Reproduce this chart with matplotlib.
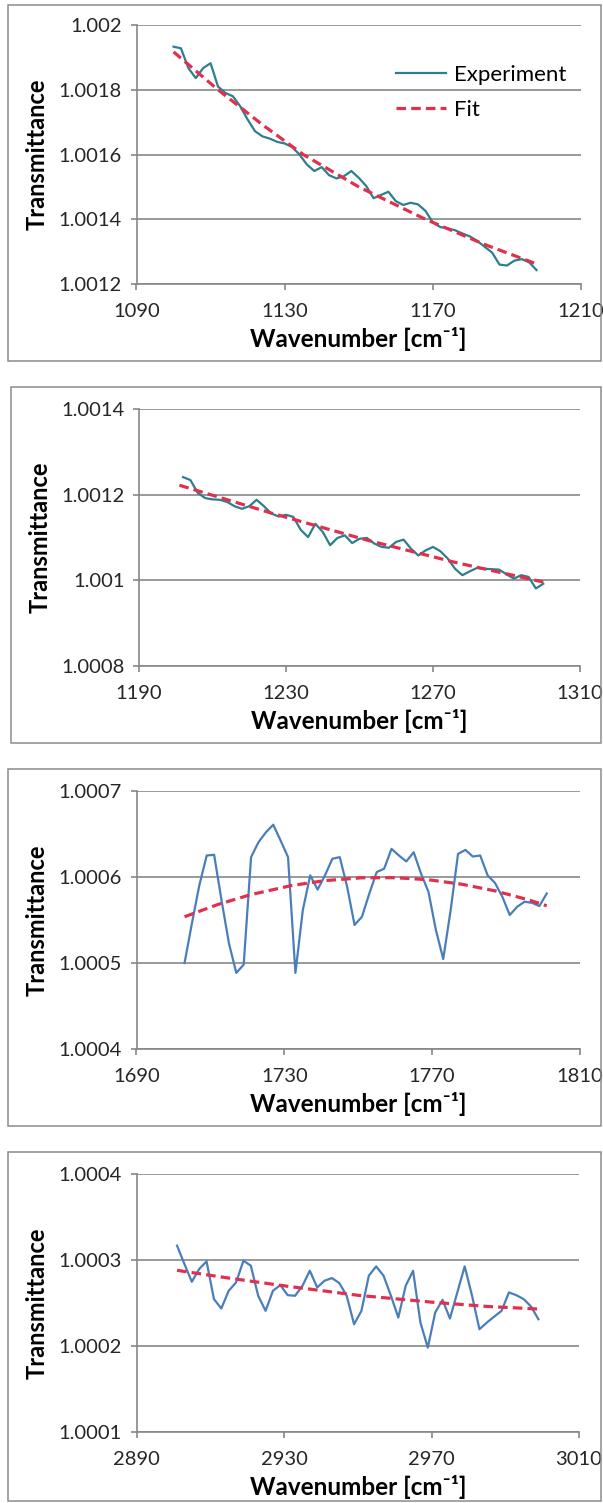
import matplotlib.pyplot as plt
from matplotlib.patches import Rectangle
from matplotlib.ticker import FuncFormatter

plt.rcParams['font.family'] = ['Lato', 'DejaVu Sans']

W, H = 603, 1503

# ---- panel 1 : 1090 - 1210 cm-1
wn1 = [1100, 1102, 1104, 1106, 1108, 1110, 1112, 1114, 1116, 1118,
       1120, 1122, 1124, 1126, 1128, 1130, 1132, 1134, 1136, 1138,
       1140, 1142, 1144, 1146, 1148, 1150, 1152, 1154, 1156, 1158,
       1160, 1162, 1164, 1166, 1168, 1170, 1172, 1174, 1176, 1178,
       1180, 1182, 1184, 1186, 1188, 1190, 1192, 1194, 1196, 1198]
exp1 = [1.001933, 1.001928, 1.001867, 1.001836, 1.001867, 1.001882, 1.001810, 1.001790, 1.001780, 1.001749,
        1.001708, 1.001672, 1.001656, 1.001649, 1.001639, 1.001634, 1.001623, 1.001600, 1.001569, 1.001549,
        1.001561, 1.001536, 1.001526, 1.001533, 1.001549, 1.001528, 1.001503, 1.001465, 1.001475, 1.001485,
        1.001456, 1.001444, 1.001451, 1.001446, 1.001426, 1.001390, 1.001376, 1.001372, 1.001366, 1.001356,
        1.001347, 1.001333, 1.001315, 1.001297, 1.001260, 1.001257, 1.001272, 1.001277, 1.001267, 1.001243]
fit1_wn = [1100, 1112, 1124, 1135, 1150, 1168, 1184, 1198]
fit1 = [1.001917, 1.001800, 1.001692, 1.001600, 1.001500, 1.001400, 1.001322, 1.001262]

# ---- panel 2 : 1190 - 1310 cm-1
wn2 = [1202, 1204, 1206, 1208, 1210, 1212, 1214, 1216, 1218, 1220,
       1222, 1224, 1226, 1228, 1230, 1232, 1234, 1236, 1238, 1240,
       1242, 1244, 1246, 1248, 1250, 1252, 1254, 1256, 1258, 1260,
       1262, 1264, 1266, 1268, 1270, 1272, 1274, 1276, 1278, 1280,
       1282, 1284, 1286, 1288, 1290, 1292, 1294, 1296, 1298, 1300]
exp2 = [1.001241, 1.001234, 1.001204, 1.001192, 1.001189, 1.001188, 1.001183, 1.001173, 1.001167, 1.001173,
        1.001188, 1.001173, 1.001156, 1.001149, 1.001153, 1.001148, 1.001118, 1.001101, 1.001132, 1.001113,
        1.001082, 1.001099, 1.001105, 1.001087, 1.001097, 1.001099, 1.001086, 1.001078, 1.001076, 1.001090,
        1.001095, 1.001074, 1.001058, 1.001070, 1.001078, 1.001068, 1.001051, 1.001027, 1.001012, 1.001021,
        1.001029, 1.001027, 1.001026, 1.001025, 1.001014, 1.001004, 1.001012, 1.001008, 1.000981, 1.000992]
fit2_wn = [1201, 1226, 1252, 1276, 1300]
fit2 = [1.001222, 1.001157, 1.001094, 1.001042, 1.000996]

# ---- panel 3 : 1690 - 1810 cm-1
wn3 = [1703, 1705, 1707, 1709, 1711, 1713, 1715, 1717, 1719, 1721,
       1723, 1725, 1727, 1729, 1731, 1733, 1735, 1737, 1739, 1741,
       1743, 1745, 1747, 1749, 1751, 1753, 1755, 1757, 1759, 1761,
       1763, 1765, 1767, 1769, 1771, 1773, 1775, 1777, 1779, 1781,
       1783, 1785, 1787, 1789, 1791, 1793, 1795, 1797, 1799, 1801]
exp3 = [1.0005000, 1.0005462, 1.0005904, 1.0006250, 1.0006258, 1.0005731, 1.0005231, 1.0004885, 1.0004981, 1.0006231,
        1.0006404, 1.0006519, 1.0006608, 1.0006423, 1.0006231, 1.0004885, 1.0005615, 1.0006019, 1.0005854, 1.0006019,
        1.0006212, 1.0006231, 1.0005885, 1.0005442, 1.0005538, 1.0005808, 1.0006058, 1.0006096, 1.0006327, 1.0006250,
        1.0006181, 1.0006288, 1.0006038, 1.0005827, 1.0005385, 1.0005046, 1.0005615, 1.0006269, 1.0006315, 1.0006238,
        1.0006250, 1.0006019, 1.0005931, 1.0005769, 1.0005558, 1.0005654, 1.0005712, 1.0005700, 1.0005662, 1.0005808]
fit3_wn = [1703, 1712, 1721, 1732, 1741, 1751, 1760, 1769, 1778, 1787, 1796, 1801]
fit3 = [1.0005538, 1.0005680, 1.0005796, 1.0005901, 1.0005958, 1.0005991,
        1.0005992, 1.0005968, 1.0005916, 1.0005839, 1.0005735, 1.0005665]

# ---- panel 4 : 2890 - 3010 cm-1
wn4 = [2901, 2903, 2905, 2907, 2909, 2911, 2913, 2915, 2917, 2919,
       2921, 2923, 2925, 2927, 2929, 2931, 2933, 2935, 2937, 2939,
       2941, 2943, 2945, 2947, 2949, 2951, 2953, 2955, 2957, 2959,
       2961, 2963, 2965, 2967, 2969, 2971, 2973, 2975, 2977, 2979,
       2981, 2983, 2985, 2987, 2989, 2991, 2993, 2995, 2997, 2999]
exp4 = [1.0003167, 1.0002953, 1.0002747, 1.0002895, 1.0002984, 1.0002545, 1.0002436, 1.0002642, 1.0002739, 1.0002992,
        1.0002934, 1.0002584, 1.0002409, 1.0002642, 1.0002708, 1.0002591, 1.0002584, 1.0002700, 1.0002875, 1.0002681,
        1.0002759, 1.0002790, 1.0002732, 1.0002584, 1.0002253, 1.0002409, 1.0002817, 1.0002926, 1.0002817, 1.0002584,
        1.0002331, 1.0002700, 1.0002875, 1.0002272, 1.0001981, 1.0002389, 1.0002537, 1.0002319, 1.0002623, 1.0002926,
        1.0002584, 1.0002195, 1.0002272, 1.0002342, 1.0002409, 1.0002623, 1.0002591, 1.0002545, 1.0002459, 1.0002311]
fit4_wn = [2901, 2915, 2930, 2950, 2970, 2985, 2999]
fit4 = [1.000288, 1.000279, 1.000270, 1.000259, 1.000251, 1.000246, 1.000243]

panels = [
    (wn1, exp1, fit1_wn, fit1, (1090, 1210), (1.0012, 1.002), 0.0002, '#2C7F8C'),
    (wn2, exp2, fit2_wn, fit2, (1190, 1310), (1.0008, 1.0014), 0.0002, '#2C7F8C'),
    (wn3, exp3, fit3_wn, fit3, (1690, 1810), (1.0004, 1.0007), 0.0001, '#4A7EBB'),
    (wn4, exp4, fit4_wn, fit4, (2890, 3010), (1.0001, 1.0004), 0.0001, '#4A7EBB'),
]

# pixel layout: (axes left, right, top, bottom), (box left, top, bottom)
layout = [
    ((136.5, 581, 25, 284), (8, 5, 361)),
    ((139, 580, 409, 666), (11, 387, 743)),
    ((136.5, 580, 791, 1049), (8, 769, 1126)),
    ((136.5, 579, 1174, 1432), (8, 1152, 1501)),
]

GRID = '#878787'
FIT_RED = '#E0304E'

fig = plt.figure(figsize=(W / 100, H / 100), dpi=100)
fig.patch.set_facecolor('white')

fmt = FuncFormatter(lambda v, p: f"{v:.4f}".rstrip('0'))

for i, (wn, ex, fwn, fv, xlim, ylim, ystep, ecol) in enumerate(panels):
    (l, r, t, b), (bx, bt, bb) = layout[i]
    fig.add_artist(Rectangle((bx / W, 1 - bb / H), (601 - bx) / W, (bb - bt) / H,
                             transform=fig.transFigure, fill=False,
                             ec='#8C8C8C', lw=1.1))
    ax = fig.add_axes([l / W, 1 - b / H, (r - l) / W, (b - t) / H])
    ax.plot(wn, ex, color=ecol, lw=1.6, label='Experiment', zorder=3)
    ax.plot(fwn, fv, color=FIT_RED, lw=2.3, ls=(0, (3, 1.6)), label='Fit', zorder=4)

    ax.set_xlim(*xlim)
    ax.set_ylim(*ylim)
    ax.set_xticks([xlim[0] + 40 * k for k in range(4)])
    nt = int(round((ylim[1] - ylim[0]) / ystep))
    ax.set_yticks([ylim[0] + ystep * k for k in range(nt + 1)])
    ax.yaxis.set_major_formatter(fmt)
    ax.grid(axis='y', color=GRID, lw=1.2)
    ax.set_axisbelow(True)
    for s in ['top', 'right']:
        ax.spines[s].set_visible(False)
    for s in ['left', 'bottom']:
        ax.spines[s].set_color(GRID)
        ax.spines[s].set_linewidth(1.2)
    ax.tick_params(axis='both', colors=GRID, labelcolor='#262626', labelsize=14.5,
                   length=4.5, width=1.2)
    ax.tick_params(axis='x', pad=9)
    ax.tick_params(axis='y', pad=6)
    ax.set_xlabel('Wavenumber [cm⁻¹]', fontsize=17.5, fontweight='bold', labelpad=5)
    ax.set_ylabel('Transmittance', fontsize=17, fontweight='bold', labelpad=7)

    if i == 0:
        ax.legend(loc='center left', bbox_to_anchor=(0.584, 0.74), frameon=False,
                  fontsize=16, handlelength=2.25, handletextpad=0.36,
                  labelspacing=0.7, borderpad=0, borderaxespad=0)

fig.savefig('out.png', dpi=100, facecolor='white')
